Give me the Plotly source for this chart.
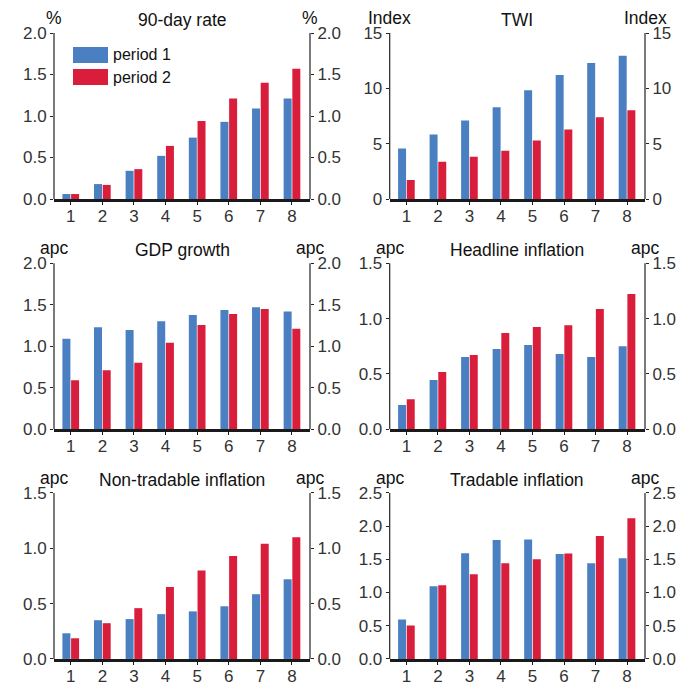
import plotly.graph_objects as go

# Horizon (quarters) shown on every panel
quarters = [1, 2, 3, 4, 5, 6, 7, 8]
quarter_labels = ["1", "2", "3", "4", "5", "6", "7", "8"]

# Panel titles and units
titles = ["90-day rate", "TWI", "GDP growth", "Headline inflation",
          "Non-tradable inflation", "Tradable inflation"]
units = ["%", "Index", "apc", "apc", "apc", "apc"]

# Response in each period, one list per panel
rate_p1 = [0.06, 0.18, 0.34, 0.52, 0.74, 0.93, 1.09, 1.21]
rate_p2 = [0.06, 0.17, 0.36, 0.64, 0.94, 1.21, 1.40, 1.57]
twi_p1 = [4.56, 5.83, 7.10, 8.29, 9.84, 11.20, 12.30, 12.94]
twi_p2 = [1.73, 3.37, 3.83, 4.37, 5.28, 6.29, 7.38, 8.02]
gdp_p1 = [1.09, 1.23, 1.195, 1.30, 1.376, 1.437, 1.47, 1.42]
gdp_p2 = [0.59, 0.71, 0.80, 1.04, 1.256, 1.39, 1.45, 1.21]
headline_p1 = [0.217, 0.444, 0.652, 0.724, 0.76, 0.679, 0.652, 0.75]
headline_p2 = [0.27, 0.516, 0.67, 0.87, 0.924, 0.94, 1.087, 1.222]
nontradable_p1 = [0.232, 0.35, 0.36, 0.405, 0.43, 0.476, 0.585, 0.72]
nontradable_p2 = [0.187, 0.323, 0.459, 0.65, 0.80, 0.93, 1.04, 1.10]
tradable_p1 = [0.595, 1.094, 1.593, 1.79, 1.80, 1.58, 1.44, 1.517]
tradable_p2 = [0.504, 1.109, 1.275, 1.44, 1.50, 1.59, 1.85, 2.12]

period1 = [rate_p1, twi_p1, gdp_p1, headline_p1, nontradable_p1, tradable_p1]
period2 = [rate_p2, twi_p2, gdp_p2, headline_p2, nontradable_p2, tradable_p2]

# Axis extents and tick spacing per panel
y_max = [2.0, 15, 2.0, 1.5, 1.5, 2.5]
y_dtick = [0.5, 5, 0.5, 0.5, 0.5, 0.5]
y_format = [".1f", "d", ".1f", ".1f", ".1f", ".1f"]

series_names = ["period 1", "period 2"]
colors = ["#4a7fc2", "#d81e3b"]

W, H = 688, 703
FONT = "Liberation Sans, Arial, sans-serif"
AXIS_COLOR = "#222222"

# Plot-area boxes in pixels: (left, right) per column, (top, bottom) per row
col_px = [(54, 310), (389.7, 645)]
row_px = [(24.7, 195.3), (261.4, 431.7), (497.4, 668.0)]

fig = go.Figure()
layout = dict(
    width=W, height=H,
    margin=dict(l=0, r=0, t=0, b=0),
    paper_bgcolor="white", plot_bgcolor="white",
    barmode="group", bargap=0.45, bargroupgap=0.08,
    showlegend=False,
    font=dict(family=FONT, size=17, color="#333333"),
)
annotations = []
shapes = []

for i in range(6):
    r, c = divmod(i, 2)
    x0p, x1p = col_px[c]
    t_px, b_px = row_px[r]
    xdom = [x0p / W, x1p / W]
    ydom = [1 - b_px / H, 1 - t_px / H]

    xname = "x" if i == 0 else f"x{i + 1}"
    yl = 2 * i + 1
    yr = 2 * i + 2
    ylname = "y" if yl == 1 else f"y{yl}"
    yrname = f"y{yr}"

    for s, vals in enumerate([period1[i], period2[i]]):
        fig.add_trace(go.Bar(
            x=quarters, y=vals, name=series_names[s],
            marker=dict(color=colors[s], line=dict(width=0)),
            xaxis=xname, yaxis=ylname,
        ))
    # Mirror scale on the right: an invisible point keeps that axis drawn
    fig.add_trace(go.Scatter(
        x=[quarters[0]], y=[0], mode="markers", marker=dict(opacity=0),
        hoverinfo="skip", xaxis=xname, yaxis=yrname,
    ))

    layout["xaxis" if i == 0 else f"xaxis{i + 1}"] = dict(
        domain=xdom, anchor=ylname, range=[0.47, 8.57],
        tickmode="array", tickvals=quarters, ticktext=quarter_labels,
        showline=True, linewidth=2.6, linecolor="#1a1a1a",
        ticks="outside", ticklen=3, tickwidth=1, tickcolor="#1a1a1a",
        ticklabelstandoff=-3,
        showgrid=False, zeroline=False, fixedrange=True,
        tickfont=dict(size=17, color="#333333"),
    )
    yaxis_common = dict(
        range=[0, y_max[i]], tickmode="linear", tick0=0, dtick=y_dtick[i],
        tickformat=y_format[i],
        showline=False,
        ticks="outside", ticklen=3, tickwidth=1, tickcolor=AXIS_COLOR,
        showgrid=False, zeroline=False, fixedrange=True,
        tickfont=dict(size=17, color="#333333"),
    )
    layout["yaxis" if yl == 1 else f"yaxis{yl}"] = dict(
        domain=ydom, anchor=xname, side="left", **yaxis_common)
    layout[f"yaxis{yr}"] = dict(
        domain=ydom, anchor=xname, side="right", overlaying=ylname,
        **yaxis_common)

    # Vertical spines on both sides of the panel
    for xd in (0, 1):
        shapes.append(dict(
            type="line", xref=f"{xname} domain", yref=f"{ylname} domain",
            x0=xd, x1=xd, y0=0, y1=1,
            line=dict(color=AXIS_COLOR, width=1.2), layer="above"))

    # Panel title and unit labels above the plot area
    top = ydom[1]
    annotations.append(dict(
        text=titles[i], x=(xdom[0] + xdom[1]) / 2, y=top, xref="paper",
        yref="paper", xanchor="center", yanchor="bottom", yshift=1,
        showarrow=False, font=dict(size=17.5, color="#111111", family=FONT)))
    for xa in xdom:
        annotations.append(dict(
            text=units[i], x=xa, y=top, xref="paper", yref="paper",
            xanchor="center", yanchor="bottom", yshift=3, showarrow=False,
            font=dict(size=17.5, color="#111111", family=FONT)))

# Legend drawn inside the first panel
leg_x0, leg_x1 = 73, 108
leg_rows = [(39.0, 55.5), (61.7, 78.1)]
for s, (ty, by) in enumerate(leg_rows):
    shapes.append(dict(
        type="rect", xref="paper", yref="paper",
        x0=leg_x0 / W, x1=leg_x1 / W, y0=1 - by / H, y1=1 - ty / H,
        fillcolor=colors[s], line=dict(width=0)))
    annotations.append(dict(
        text=series_names[s], x=111 / W, y=1 - (ty + by) / 2 / H,
        xref="paper", yref="paper", xanchor="left", yanchor="middle",
        showarrow=False, font=dict(size=16, color="#111111", family=FONT)))

layout["annotations"] = annotations
layout["shapes"] = shapes
fig.update_layout(**layout)

fig.write_html("out.html")
